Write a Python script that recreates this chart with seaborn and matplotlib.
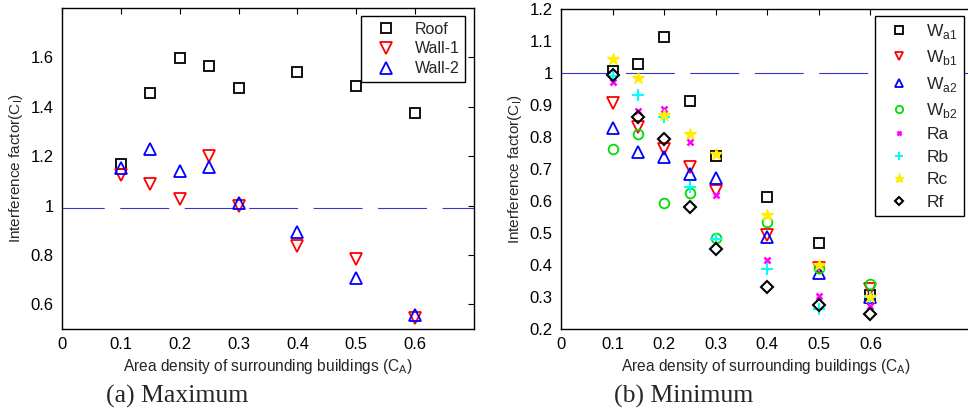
import numpy as np
import pandas as pd
import seaborn as sns
import matplotlib.pyplot as plt
from matplotlib.ticker import FuncFormatter

# Data
ca = [0.1, 0.15, 0.2, 0.25, 0.3, 0.4, 0.5, 0.6]

# (a) Maximum
roof = [1.17, 1.455, 1.598, 1.566, 1.477, 1.542, 1.485, 1.376]
wall_1 = [1.122, 1.087, 1.027, 1.199, 0.998, 0.835, 0.782, 0.546]
wall_2 = [1.152, 1.23, 1.138, 1.158, 1.011, 0.892, 0.708, 0.556]

# (b) Minimum
wa1 = [1.005, 1.028, 1.113, 0.911, 0.742, 0.614, 0.470, 0.305]
wb1 = [0.906, 0.830, 0.763, 0.705, 0.630, 0.495, 0.391, 0.325]
wa2 = [0.828, 0.752, 0.737, 0.685, 0.671, 0.488, 0.375, 0.299]
wb2 = [0.762, 0.809, 0.594, 0.626, 0.484, 0.534, 0.391, 0.342]
ra = [0.972, 0.882, 0.889, 0.783, 0.620, 0.416, 0.304, 0.272]
rb = [0.992, 0.931, 0.864, 0.643, 0.480, 0.388, 0.262, 0.300]
rc = [1.044, 0.984, 0.870, 0.810, 0.748, 0.557, 0.401, 0.299]
rf = [0.994, 0.862, 0.793, 0.581, 0.451, 0.331, 0.275, 0.247]

ref_a = 0.99
ref_b = 1.0

sns.set_style('white')
plt.rcParams['font.family'] = ['Liberation Sans', 'DejaVu Sans']
plt.rcParams['mathtext.fontset'] = 'custom'
plt.rcParams['mathtext.rm'] = 'Liberation Sans'

fig = plt.figure(figsize=(9.68, 4.12), dpi=100)
ax1 = fig.add_axes([62 / 968, 83 / 412, 412 / 968, 321 / 412])
# right panel runs past the figure edge (cropped in the original)
ax2 = fig.add_axes([561 / 968, 83 / 412, 428 / 968, 320 / 412])

dash_col = '#3535d0'


def draw(ax, y, name, marker, col, size, hollow=True, mew=1.3):
    df = pd.DataFrame({'ca': ca, 'val': y})
    kw = dict(marker=marker, linestyle='', color=col, ms=size, mew=mew, mec=col)
    if hollow:
        kw['mfc'] = 'none'
    sns.lineplot(data=df, x='ca', y='val', ax=ax, label=name, **kw)


# (a)
draw(ax1, roof, 'Roof', 's', 'black', 7)
draw(ax1, wall_1, 'Wall-1', 'v', 'red', 8)
draw(ax1, wall_2, 'Wall-2', '^', 'blue', 8)
ax1.axhline(ref_a, color=dash_col, lw=0.8, linestyle=(6, (44, 14)), zorder=1)
ax1.set_xlim(0, 0.7)
ax1.set_ylim(0.5, 1.8)
ax1.set_xticks(np.arange(0, 0.61, 0.1))
ax1.set_yticks([0.6, 0.8, 1.0, 1.2, 1.4, 1.6])

# (b)
draw(ax2, wa1, r'W$_{\mathrm{a1}}$', 's', 'black', 7)
draw(ax2, wb1, r'W$_{\mathrm{b1}}$', 'v', 'red', 8)
draw(ax2, wa2, r'W$_{\mathrm{a2}}$', '^', 'blue', 8)
draw(ax2, wb2, r'W$_{\mathrm{b2}}$', 'o', '#00dd00', 7)
draw(ax2, ra, 'Ra', 'x', 'magenta', 4, hollow=False, mew=1.8)
draw(ax2, rb, 'Rb', '+', 'cyan', 8, hollow=False, mew=1.5)
draw(ax2, rc, 'Rc', '*', '#ffee00', 9, hollow=False, mew=1)
draw(ax2, rf, 'Rf', 'D', 'black', 6, mew=1.5)
ax2.axhline(ref_b, color=dash_col, lw=0.8, linestyle=(0, (44, 14)), zorder=1)
ax2.set_xlim(0, 0.83)
ax2.set_ylim(0.2, 1.2)
ax2.set_xticks(np.arange(0, 0.61, 0.1))
ax2.set_yticks(np.arange(0.2, 1.21, 0.1))

fmt = FuncFormatter(lambda v, p: ('%.1f' % v).rstrip('0').rstrip('.') if abs(v) > 1e-9 else '0')
for ax in (ax1, ax2):
    ax.xaxis.set_major_formatter(fmt)
    ax.yaxis.set_major_formatter(fmt)
    ax.tick_params(direction='in', length=4, width=0.8, top=True, right=True,
                   labelsize=12, colors='black', pad=6)
    for s in ax.spines.values():
        s.set_color('black')
        s.set_linewidth(1.0)
    ax.set_xlabel('Area density of surrounding buildings (C$_{\\mathrm{A}}$)',
                  fontsize=11.2, labelpad=3)
    ax.set_ylabel('Interference factor(C$_{\\mathrm{I}}$)', fontsize=11, labelpad=4)

# centre the x label on the visible part of the cropped panel
ax2.xaxis.label.set_x(205 / 428)

leg1 = ax1.legend(loc='upper right', bbox_to_anchor=(0.978, 0.975), borderaxespad=0,
                  fancybox=False, framealpha=1, edgecolor='black', fontsize=11.5,
                  handlelength=2.4, handletextpad=0.6, labelspacing=0.3,
                  numpoints=1, borderpad=0.35)
leg1.get_frame().set_linewidth(1.0)
leg2 = ax2.legend(loc='upper right', bbox_to_anchor=(403 / 428, 0.978), borderaxespad=0,
                  fancybox=False, framealpha=1, edgecolor='black', fontsize=12.5,
                  handlelength=2.0, handletextpad=0.6, labelspacing=0.42,
                  numpoints=1, borderpad=0.35, markerscale=0.75)
leg2.get_frame().set_linewidth(1.0)

fig.text(177 / 968, 1 - 396 / 412, '(a) Maximum', ha='center', va='center',
         family='Liberation Serif', fontsize=18.5)
fig.text(684 / 968, 1 - 396 / 412, '(b) Minimum', ha='center', va='center',
         family='Liberation Serif', fontsize=18.5)

fig.savefig('out.png', dpi=100)
